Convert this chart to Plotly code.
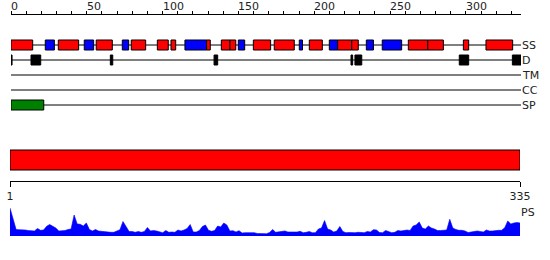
import plotly.graph_objects as go

W, H = 550, 260

# ---------------- data ----------------
ruler_ticks = [0, 50, 100, 150, 200, 250, 300]
ruler_labels = ["0", "50", "100", "150", "200", "250", "300"]
seq_ends = [1, 335]
seq_end_labels = ["1", "335"]

track_names = ["SS", "D", "TM", "CC", "SP"]

# secondary structure: H = helix (red), E = strand (blue)
ss_start = [0, 22.6, 31.2, 48.3, 56.2, 73.4, 79.3, 96.5, 105.5, 114.7, 129.0, 138.7, 144.4, 149.9,
            159.8, 173.6, 190.1, 196.7, 209.9, 215.4, 224.7, 234.3, 244.8, 262.0, 274.8, 298.3, 313.2]
ss_end = [14.3, 28.6, 44.6, 54.5, 66.8, 77.6, 88.8, 103.7, 108.6, 129.0, 131.4, 144.4, 148.2, 154.1,
          171.2, 186.8, 192.2, 205.3, 215.4, 224.7, 229.0, 239.0, 257.6, 274.8, 285.1, 301.8, 330.8]
ss_type = ["H", "E", "H", "E", "H", "E", "H", "H", "H", "E", "H", "H", "H", "E",
           "H", "H", "E", "H", "E", "H", "H", "E", "E", "H", "H", "H", "H"]

# disorder segments
d_start = [0, 13.2, 65.5, 133.9, 224.2, 226.8, 295.6, 330.6]
d_end = [0.7, 19.6, 67.1, 136.3, 225.3, 231.3, 301.8, 336.3]

# signal peptide
sp_start = [0]
sp_end = [21.6]

# domain bar
dom_start = [1]
dom_end = [335]

# PS profile (every second residue)
ps_pos = list(range(1, 336, 2))
ps_val = [
    28, 17, 6.5, 6.3, 6.3, 6, 5.5, 5.3, 5, 7.5,
    5.7, 6, 9.7, 11.5, 10, 8, 5, 5, 5.5, 6.5,
    7, 21, 12, 11.7, 10, 13, 6.5, 5, 6.5, 5,
    4.5, 4.5, 3.7, 3.7, 3.7, 5, 6.3, 14.5, 9, 4.5,
    4.5, 3.7, 4.5, 3.7, 4.5, 8.5, 5, 5.5, 5, 4,
    3.3, 5.5, 3.7, 4, 3.7, 6, 5, 6, 7.5, 11.5,
    4, 4, 5.5, 9.5, 11, 5.7, 4.7, 5.5, 10, 9,
    13, 11, 5, 5.3, 4, 5.3, 3, 3.3, 3.3, 3.3,
    3.3, 2.5, 2.3, 2.3, 2.3, 3.5, 6.5, 3.7, 4, 4.5,
    5, 4, 4, 3.7, 4, 4.7, 3.3, 3.7, 4.5, 3.3,
    3.3, 7, 8, 15.5, 7, 6, 4, 5, 9.5, 4.5,
    3.3, 3.5, 3.3, 3.3, 3.7, 3.3, 3.3, 4.5, 4, 6.3,
    6, 3.5, 3.3, 5.5, 4, 3.3, 3.7, 5.5, 5, 5.5,
    6, 5.5, 10, 11, 14, 8, 7, 10, 8, 7,
    5.5, 5.5, 5.7, 6, 16.7, 8, 6.5, 5.7, 5.7, 5,
    3.5, 4, 4, 5, 4.5, 4, 6, 5, 5, 5.7,
    5.7, 5.7, 8.3, 15, 12, 13, 13.5, 13,
]

# ---------------- layout constants ----------------
FONT = "DejaVu Sans"
TXT = "#222222"
RED, BLUE, GREEN, BLACK = "#ff0000", "#0000ff", "#008000", "#000000"
ROW_Y = {"SS": 45, "D": 60, "TM": 75, "CC": 90, "SP": 105}


def py(px):
    """pixel row -> paper fraction"""
    return 1 - px / H


fig = go.Figure()

# PS profile
fig.add_trace(go.Scatter(
    x=ps_pos, y=ps_val, xaxis="x2", yaxis="y3", mode="lines",
    fill="tozeroy", fillcolor=BLUE, line=dict(color=BLUE, width=0.6),
    hoverinfo="skip", showlegend=False))

shapes = []
# track baselines
for name in track_names:
    yy = ROW_Y[name]
    shapes.append(dict(type="line", xref="x domain", yref="y", x0=0, x1=1, y0=yy, y1=yy,
                       line=dict(color=BLACK, width=1)))
# SS boxes
for s, e, t in zip(ss_start, ss_end, ss_type):
    shapes.append(dict(type="rect", xref="x", yref="y", x0=s, x1=e,
                       y0=ROW_Y["SS"] - 5, y1=ROW_Y["SS"] + 5,
                       fillcolor=RED if t == "H" else BLUE, line=dict(color=BLACK, width=1)))
# disorder boxes
for s, e in zip(d_start, d_end):
    shapes.append(dict(type="rect", xref="x", yref="y", x0=s, x1=e,
                       y0=ROW_Y["D"] - 5, y1=ROW_Y["D"] + 5,
                       fillcolor=BLACK, line=dict(color=BLACK, width=1)))
# signal peptide
for s, e in zip(sp_start, sp_end):
    shapes.append(dict(type="rect", xref="x", yref="y", x0=s, x1=e,
                       y0=ROW_Y["SP"] - 5, y1=ROW_Y["SP"] + 5,
                       fillcolor=GREEN, line=dict(color=BLACK, width=1)))
# domain bar
for s, e in zip(dom_start, dom_end):
    shapes.append(dict(type="rect", xref="x2", yref="y2", x0=s, x1=e, y0=150, y1=170,
                       fillcolor=RED, line=dict(color=BLACK, width=1)))

annotations = []
for v, lab in zip(ruler_ticks, ruler_labels):
    annotations.append(dict(x=v, y=py(6), xref="x", yref="paper", text=lab, showarrow=False,
                            xanchor="left", yanchor="middle", xshift=-2,
                            font=dict(family=FONT, size=11, color=TXT)))
for name in track_names:
    annotations.append(dict(x=522 / W, y=py(ROW_Y[name]), xref="paper", yref="paper", text=name,
                            showarrow=False, xanchor="left", yanchor="middle", xshift=-2,
                            font=dict(family=FONT, size=11, color=TXT)))
annotations.append(dict(x=521 / W, y=py(212), xref="paper", yref="paper", text="PS",
                        showarrow=False, xanchor="left", yanchor="middle", xshift=-2,
                        font=dict(family=FONT, size=11, color=TXT)))

fig.update_layout(
    width=W, height=H, autosize=False,
    margin=dict(l=0, r=0, t=0, b=0, pad=0, autoexpand=False),
    paper_bgcolor="white", plot_bgcolor="white", showlegend=False,
    font=dict(family=FONT, size=11, color=TXT),
    xaxis=dict(domain=[11 / W, 521 / W], range=[0, 336.3], anchor="y", side="top",
               showline=True, linecolor=BLACK, linewidth=1, ticks="outside", ticklen=3,
               tickcolor=BLACK, tickwidth=1, tick0=0, dtick=10, showticklabels=False,
               showgrid=False, zeroline=False, fixedrange=True, automargin=False),
    yaxis=dict(domain=[py(115), py(15)], range=[115, 15], anchor="x", visible=False,
               fixedrange=True, automargin=False),
    xaxis2=dict(domain=[10 / W, 520 / W], range=[1, 335], anchor="y2", side="bottom",
                showline=True, linecolor=BLACK, linewidth=1, ticks="outside", ticklen=5,
                tickcolor=BLACK, tickwidth=1, tickvals=seq_ends, ticktext=seq_end_labels,
                tickfont=dict(family=FONT, size=11, color=TXT),
                showgrid=False, zeroline=False, fixedrange=True, automargin=False),
    yaxis2=dict(domain=[py(181), py(140)], range=[181, 140], anchor="x2", visible=False,
                fixedrange=True, automargin=False),
    yaxis3=dict(domain=[py(236), py(206)], range=[0, 30], anchor="x2", visible=False,
                fixedrange=True, automargin=False),
    shapes=shapes,
    annotations=annotations,
)

fig.write_html("out.html")
